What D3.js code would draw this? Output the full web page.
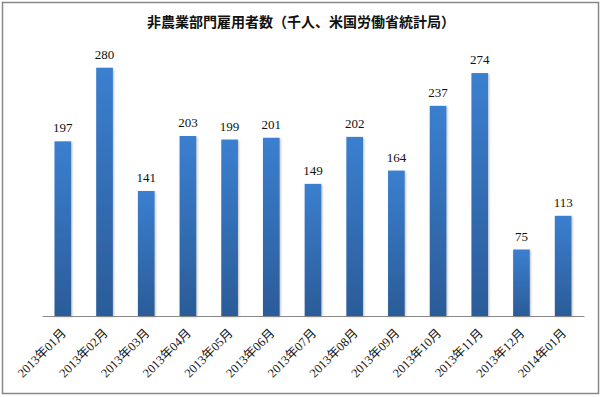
<!DOCTYPE html>
<html>
<head>
<meta charset="utf-8">
<script src="https://cdn.jsdelivr.net/npm/d3@7"></script>
<style>
  body { margin: 0; background: #fff; }
  svg { display: block; }
</style>
</head>
<body>
<svg id="chart" width="603" height="397"></svg>
<script>
// 非農業部門雇用者数 (千人)
const months = ["2013年01月", "2013年02月", "2013年03月", "2013年04月", "2013年05月", "2013年06月",
  "2013年07月", "2013年08月", "2013年09月", "2013年10月", "2013年11月", "2013年12月", "2014年01月"];
const jobs = [197, 280, 141, 203, 199, 201, 149, 202, 164, 237, 274, 75, 113];
const titleText = "非農業部門雇用者数（千人、米国労働省統計局）";

const svg = d3.select("#chart");
const margin = { left: 42, right: 19, top: 50, bottom: 81 };
const W = 603, H = 397;

const defs = svg.append("defs");
const grad = defs.append("linearGradient").attr("id", "barGrad")
  .attr("x1", 0).attr("y1", 0).attr("x2", 0).attr("y2", 1);
grad.append("stop").attr("offset", "0%").attr("stop-color", "#3b7fd0");
grad.append("stop").attr("offset", "100%").attr("stop-color", "#2b5c98");
const shadow = defs.append("filter").attr("id", "shadow")
  .attr("x", "-30%").attr("y", "-10%").attr("width", "160%").attr("height", "120%");
shadow.append("feDropShadow").attr("dx", 1).attr("dy", 1).attr("stdDeviation", 1)
  .attr("flood-color", "#000").attr("flood-opacity", 0.25);

// outer border
svg.append("rect").attr("x", 2.5).attr("y", 2.5).attr("width", 596).attr("height", 391)
  .attr("fill", "#fff").attr("stroke", "#888").attr("stroke-width", 1.5);

const x = d3.scaleBand().domain(months)
  .range([margin.left, W - margin.right]).paddingInner(0.6).paddingOuter(0.3);
const y = d3.scaleLinear().domain([0, 300]).range([H - margin.bottom, margin.top]);

svg.append("text")
  .attr("x", 301).attr("y", 27)
  .attr("text-anchor", "middle")
  .attr("font-family", "'Noto Sans CJK JP', sans-serif")
  .attr("font-weight", "bold")
  .attr("font-size", 14)
  .attr("fill", "#111")
  .text(titleText);

svg.append("g").selectAll("rect")
  .data(jobs)
  .join("rect")
  .attr("x", (d, i) => x(months[i]))
  .attr("y", d => y(d))
  .attr("width", x.bandwidth())
  .attr("height", d => y(0) - y(d))
  .attr("fill", "url(#barGrad)")
  .attr("filter", "url(#shadow)");

svg.append("g").selectAll("text")
  .data(jobs)
  .join("text")
  .attr("x", (d, i) => x(months[i]) + x.bandwidth() / 2)
  .attr("y", d => y(d) - 9)
  .attr("text-anchor", "middle")
  .attr("font-family", "'Liberation Serif', serif")
  .attr("font-size", 13)
  .attr("fill", "#111")
  .text(d => d);

const xAxis = svg.append("g")
  .attr("transform", `translate(0,${y(0)})`)
  .call(d3.axisBottom(x).tickSize(0).tickPadding(0));
xAxis.select(".domain").attr("stroke", "#888").attr("stroke-width", 1);
xAxis.selectAll("text")
  .attr("font-family", "'Liberation Serif', 'Noto Sans CJK JP', serif")
  .attr("font-size", 12.5)
  .attr("fill", "#111")
  .attr("text-anchor", "end")
  .attr("dy", 0)
  .attr("transform", "translate(4,18) rotate(-45)");
</script>
</body>
</html>
